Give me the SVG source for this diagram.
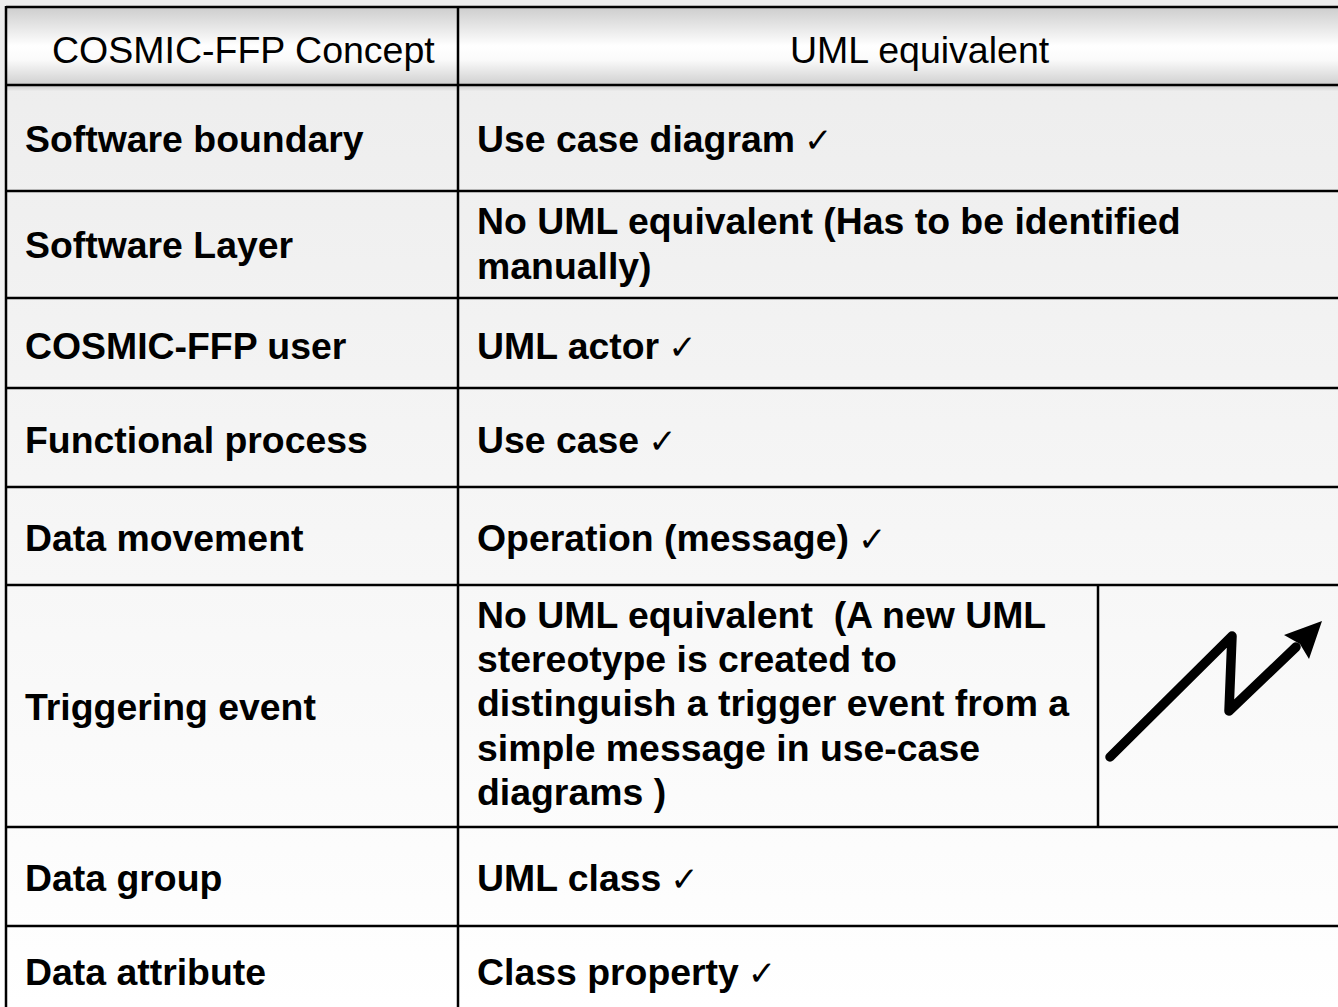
<svg xmlns="http://www.w3.org/2000/svg" width="1338" height="1007" viewBox="0 0 1338 1007">
  <defs>
    <linearGradient id="bodyFill" x1="0" y1="0" x2="0" y2="1">
      <stop offset="0" stop-color="#ececec"/>
      <stop offset="1" stop-color="#ffffff"/>
    </linearGradient>
    <linearGradient id="headFill" x1="0" y1="0" x2="0" y2="1">
      <stop offset="0" stop-color="#cdcdcd"/>
      <stop offset="0.5" stop-color="#ffffff"/>
      <stop offset="0.68" stop-color="#fafafa"/>
      <stop offset="1" stop-color="#cfcfcf"/>
    </linearGradient>
    <linearGradient id="headShadow" x1="0" y1="0" x2="0" y2="1">
      <stop offset="0" stop-color="#cfcfcf"/>
      <stop offset="1" stop-color="#ececec"/>
    </linearGradient>
    <style>
      .grid line { stroke: #000; stroke-width: 2.5; }
      .head { font-family: "Liberation Sans", Arial, sans-serif; font-size: 37.5px; fill: #000; }
      .cell { font-family: "Liberation Sans", Arial, sans-serif; font-size: 37.4px; font-weight: bold; fill: #000; }
      .tick { font-family: "DejaVu Sans", sans-serif; font-weight: normal; font-size: 34px; }
    </style>
  </defs>

  <!-- page and table backgrounds -->
  <rect x="0" y="0" width="1338" height="1007" fill="url(#bodyFill)"/>
  <rect x="0" y="0" width="1338" height="8" fill="#ececec"/>
  <rect x="6" y="7" width="1332" height="78" fill="url(#headFill)"/>
  <rect x="6" y="86" width="1332" height="5" fill="url(#headShadow)"/>

  <!-- table rules -->
  <g id="grid" class="grid">
    <line x1="6" y1="7" x2="1338" y2="7"/>
    <line x1="6" y1="85" x2="1338" y2="85"/>
    <line x1="6" y1="191" x2="1338" y2="191"/>
    <line x1="6" y1="298" x2="1338" y2="298"/>
    <line x1="6" y1="388" x2="1338" y2="388"/>
    <line x1="6" y1="487" x2="1338" y2="487"/>
    <line x1="6" y1="585" x2="1338" y2="585"/>
    <line x1="6" y1="827" x2="1338" y2="827"/>
    <line x1="6" y1="926" x2="1338" y2="926"/>
    <line x1="6" y1="6" x2="6" y2="1007"/>
    <line x1="458" y1="6" x2="458" y2="1007"/>
    <line x1="1098" y1="585" x2="1098" y2="827"/>
  </g>

  <g id="header">
    <text class="head" x="52" y="63">COSMIC-FFP Concept</text>
    <text class="head" x="790" y="63">UML equivalent</text>
  </g>

  <g id="row-boundary">
    <text class="cell" x="477" y="152">Use case diagram<tspan class="tick" dx="9">✓</tspan></text>
    <text class="cell" x="25" y="152">Software boundary</text>
  </g>

  <g id="row-layer">
    <text class="cell" x="25" y="258">Software Layer</text>
    <text class="cell" x="477" y="234">No UML equivalent (Has to be identified</text>
    <text class="cell" x="477" y="279">manually)</text>
  </g>

  <g id="row-user">
    <text class="cell" x="25" y="359">COSMIC-FFP user</text>
    <text class="cell" x="477" y="359">UML actor<tspan class="tick" dx="9">✓</tspan></text>
  </g>

  <g id="row-process">
    <text class="cell" x="25" y="453">Functional process</text>
    <text class="cell" x="477" y="453">Use case<tspan class="tick" dx="9">✓</tspan></text>
  </g>

  <g id="row-movement">
    <text class="cell" x="25" y="551">Data movement</text>
    <text class="cell" x="477" y="551">Operation (message)<tspan class="tick" dx="9">✓</tspan></text>
  </g>

  <g id="row-trigger">
    <text class="cell" x="25" y="720">Triggering event</text>
    <text class="cell" x="477" y="628" xml:space="preserve">No UML equivalent  (A new UML</text>
    <text class="cell" x="477" y="672">stereotype is created to</text>
    <text class="cell" x="477" y="716">distinguish a trigger event from a</text>
    <text class="cell" x="477" y="761">simple message in use-case</text>
    <text class="cell" x="477" y="805">diagrams )</text>
    <!-- zig-zag trigger arrow -->
    <g id="trigger-arrow">
      <polyline points="1110,757 1232,636 1229,711 1296,647" fill="none" stroke="#000" stroke-width="9.5" stroke-linecap="round" stroke-linejoin="round"/>
      <polygon points="1322,621 1309,659 1300,644 1284,635" fill="#000"/>
    </g>
  </g>

  <g id="row-group">
    <text class="cell" x="25" y="891">Data group</text>
    <text class="cell" x="477" y="891">UML class<tspan class="tick" dx="9">✓</tspan></text>
  </g>

  <g id="row-attribute">
    <text class="cell" x="25" y="985">Data attribute</text>
    <text class="cell" x="477" y="985">Class property<tspan class="tick" dx="9">✓</tspan></text>
  </g>
</svg>
